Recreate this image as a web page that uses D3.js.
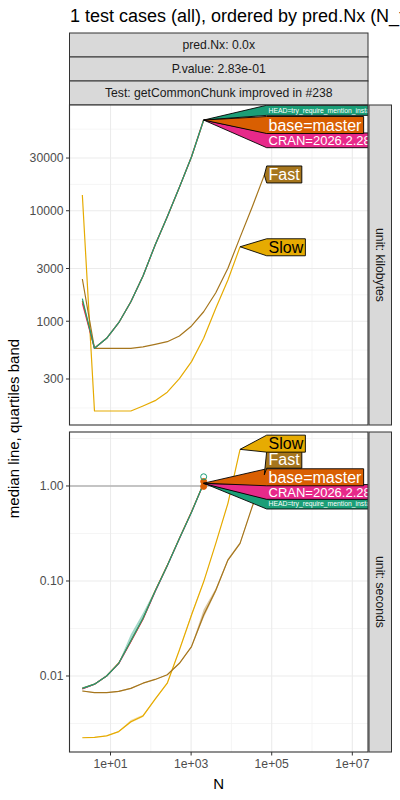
<!DOCTYPE html>
<html>
<head>
<meta charset="utf-8">
<style>
  body { margin: 0; background: #fff; }
  text { font-family: "Liberation Sans", Arial, sans-serif; }
</style>
</head>
<body>
<script src="https://cdnjs.cloudflare.com/ajax/libs/d3/7.8.5/d3.min.js"></script>
<script>

//////////////////////////
////////// DATA //////////
//////////////////////////

const seriesNames = ["HEAD=try_require_mention_install", "base=master", "CRAN=2026.2.28", "Fast", "Slow"];
const seriesColors = ["#1B9E77", "#D95F02", "#E7298A", "#A6761D", "#E6AB02"];
const labelTextColors = ["#fff", "#fff", "#fff", "#fff", "#000"];

const nVersions = [2, 4, 8, 16, 32, 64, 128, 256, 512, 1024, 2048];
const nFast = [2, 4, 8, 16, 32, 64, 128, 256, 512, 1024, 2048, 4096, 8192, 16384, 32768, 65536];
const nSlow = [2, 4, 8, 16, 32, 64, 128, 256, 512, 1024, 2048, 4096, 8192, 16384];

// memory, kilobytes (median)
const kbHead   = [1600, 569, 700, 970, 1500, 2565, 4900, 8830, 16300, 30800, 66200];
const kbMaster = [1530, 569, 700, 970, 1500, 2565, 4900, 8830, 16300, 30800, 66200];
const kbCran   = [1450, 569, 700, 970, 1500, 2565, 4900, 8830, 16300, 30800, 66200];
const kbFast   = [2410, 569, 569, 569, 569, 585, 618, 653, 735, 906, 1218, 1811, 3016, 5740, 10800, 21000];
const kbSlow   = [13900, 154, 154, 154, 154, 171, 191, 228, 302, 431, 700, 1310, 2360, 4720];

// time, seconds (median, first and third quartile)
const secHead     = [0.0074, 0.0082, 0.0100, 0.0136, 0.0235, 0.0405, 0.078, 0.145, 0.280, 0.530, 1.07];
const secHeadLo   = [0.0072, 0.0081, 0.0099, 0.0134, 0.0228, 0.0392, 0.076, 0.142, 0.276, 0.524, 1.05];
const secHeadHi   = [0.0076, 0.0083, 0.0101, 0.0139, 0.0275, 0.0460, 0.081, 0.148, 0.284, 0.536, 1.09];
const secMaster   = [0.0074, 0.0082, 0.0100, 0.0137, 0.0232, 0.0400, 0.079, 0.146, 0.282, 0.535, 1.07];
const secMasterLo = [0.0073, 0.0081, 0.0099, 0.0135, 0.0228, 0.0394, 0.078, 0.144, 0.279, 0.529, 1.05];
const secMasterHi = [0.0075, 0.0083, 0.0101, 0.0139, 0.0240, 0.0412, 0.080, 0.148, 0.285, 0.540, 1.09];
const secCran     = [0.0073, 0.0082, 0.0100, 0.0135, 0.0230, 0.0395, 0.077, 0.145, 0.279, 0.531, 1.06];
const secCranLo   = [0.0072, 0.0081, 0.0099, 0.0134, 0.0227, 0.0390, 0.076, 0.143, 0.276, 0.526, 1.05];
const secCranHi   = [0.0074, 0.0083, 0.0101, 0.0137, 0.0236, 0.0404, 0.079, 0.147, 0.283, 0.537, 1.08];
const secFast     = [0.00695, 0.00668, 0.00668, 0.0069, 0.0074, 0.0084, 0.0092, 0.0103, 0.0136, 0.0204, 0.0439, 0.080, 0.166, 0.249, 0.605, 1.31];
const secFastLo   = [0.00688, 0.00662, 0.00663, 0.0068, 0.0073, 0.0083, 0.0091, 0.0102, 0.0134, 0.0201, 0.0410, 0.076, 0.162, 0.243, 0.595, 1.29];
const secFastHi   = [0.00702, 0.00674, 0.00673, 0.0070, 0.0075, 0.0085, 0.0093, 0.0104, 0.0138, 0.0208, 0.0500, 0.084, 0.172, 0.258, 0.615, 1.33];
const secSlow     = [0.00224, 0.00226, 0.00234, 0.0026, 0.0033, 0.0038, 0.0057, 0.0084, 0.0188, 0.0439, 0.098, 0.249, 0.657, 2.43];
const secSlowLo   = [0.00223, 0.00225, 0.00233, 0.00258, 0.00322, 0.0037, 0.0056, 0.0083, 0.0186, 0.0430, 0.097, 0.246, 0.650, 2.41];
const secSlowHi   = [0.00225, 0.00228, 0.00236, 0.00263, 0.00345, 0.0039, 0.0058, 0.0086, 0.0191, 0.0460, 0.100, 0.253, 0.665, 2.45];

// points at the largest N of the versions (series index, N, seconds, open?)
const endPointSeries = [1, 1, 0];
const endPointN = [2048, 2048, 2048];
const endPointSec = [0.99, 1.115, 1.25];
const endPointOpen = [false, false, true];

// direct label box centres, in each panel's unit
const labelCenterKb  = [81100, 59700, 43400, 21300, 4670];
const labelCenterSec = [0.647, 1.235, 0.865, 1.89, 2.79];
const labelFont = [6.8, 16, 13, 16, 16];

// ticks
const xTicks = [10, 1000, 1e5, 1e7];
const xTickLabels = ["1e+01", "1e+03", "1e+05", "1e+07"];
const xMinor = [100, 1e4, 1e6];
const kbTicks = [300, 1000, 3000, 10000, 30000];
const kbTickLabels = ["300", "1000", "3000", "10000", "30000"];
const kbMinor = [164, 548, 1732, 5477, 17320, 54770];
const secTicks = [0.01, 0.1, 1];
const secTickLabels = ["0.01", "0.10", "1.00"];
const secMinor = [0.00316, 0.0316, 0.316, 3.16];

const stripTexts = ["pred.Nx: 0.0x", "P.value: 2.83e-01", "Test: getCommonChunk improved in #238"];
const titleText = "1 test cases (all), ordered by pred.Nx (N_target)";

///////////////////////////
////////// SETUP //////////
///////////////////////////

const W = 400, H = 800;
const px0 = 69.5, px1 = 368;
const stripTop = 33, stripH = 24;
const smallFont = 12.2;

const panels = [
  { unit: "kilobytes", y0: 105, y1: 425, domain: [115, 90600],
    ticks: kbTicks, tickLabels: kbTickLabels, minor: kbMinor, labelCenter: labelCenterKb,
    series: [
      { s: 0, n: nVersions, v: kbHead },
      { s: 1, n: nVersions, v: kbMaster },
      { s: 2, n: nVersions, v: kbCran },
      { s: 3, n: nFast, v: kbFast },
      { s: 4, n: nSlow, v: kbSlow }
    ] },
  { unit: "seconds", y0: 432, y1: 752, domain: [0.001585, 3.70],
    ticks: secTicks, tickLabels: secTickLabels, minor: secMinor, labelCenter: labelCenterSec, hline: 1,
    series: [
      { s: 0, n: nVersions, v: secHead, lo: secHeadLo, hi: secHeadHi },
      { s: 1, n: nVersions, v: secMaster, lo: secMasterLo, hi: secMasterHi },
      { s: 2, n: nVersions, v: secCran, lo: secCranLo, hi: secCranHi },
      { s: 3, n: nFast, v: secFast, lo: secFastLo, hi: secFastHi },
      { s: 4, n: nSlow, v: secSlow, lo: secSlowLo, hi: secSlowHi }
    ] }
];

let svg = d3.select('body').append('svg')
  .attr('width', W)
  .attr('height', H)
  .style('display', 'block');

let x = d3.scaleLog().domain([0.96, 2.45e7]).range([px0, px1]);

// title
svg.append('text')
  .attr('x', 70).attr('y', 22)
  .attr('font-size', 18)
  .attr('fill', '#000')
  .text(titleText);

// top strips
stripTexts.forEach((t, i) => {
  let yTop = stripTop + i * stripH;
  svg.append('rect')
    .attr('x', px0).attr('y', yTop)
    .attr('width', px1 - px0).attr('height', stripH)
    .attr('fill', '#D9D9D9').attr('stroke', '#333333').attr('stroke-width', 1);
  svg.append('text')
    .attr('x', (px0 + px1) / 2).attr('y', yTop + stripH / 2 + 4.3)
    .attr('text-anchor', 'middle')
    .attr('font-size', smallFont)
    .attr('fill', '#1A1A1A')
    .text(t);
});

////////////////////////////
////////// PANELS //////////
////////////////////////////

let defs = svg.append('defs');
let line = d3.line();
let area = d3.area();

panels.forEach((p, pi) => {
  let y = d3.scaleLog().domain(p.domain).range([p.y1, p.y0]);
  let clipId = 'clip' + pi;
  defs.append('clipPath').attr('id', clipId)
    .append('rect').attr('x', px0).attr('y', p.y0)
    .attr('width', px1 - px0).attr('height', p.y1 - p.y0);

  let g = svg.append('g');
  g.append('rect').attr('x', px0).attr('y', p.y0)
    .attr('width', px1 - px0).attr('height', p.y1 - p.y0).attr('fill', '#fff');

  let grid = g.append('g').attr('clip-path', 'url(#' + clipId + ')');
  // minor grid
  xMinor.forEach(v => grid.append('line')
    .attr('x1', x(v)).attr('x2', x(v)).attr('y1', p.y0).attr('y2', p.y1)
    .attr('stroke', '#F2F2F2').attr('stroke-width', 0.8));
  p.minor.forEach(v => grid.append('line')
    .attr('x1', px0).attr('x2', px1).attr('y1', y(v)).attr('y2', y(v))
    .attr('stroke', '#F2F2F2').attr('stroke-width', 0.8));
  // major grid
  xTicks.forEach(v => grid.append('line')
    .attr('x1', x(v)).attr('x2', x(v)).attr('y1', p.y0).attr('y2', p.y1)
    .attr('stroke', '#EBEBEB').attr('stroke-width', 1.1));
  p.ticks.forEach(v => grid.append('line')
    .attr('x1', px0).attr('x2', px1).attr('y1', y(v)).attr('y2', y(v))
    .attr('stroke', '#EBEBEB').attr('stroke-width', 1.1));

  let plot = g.append('g').attr('clip-path', 'url(#' + clipId + ')');

  if (p.hline !== undefined) {
    plot.append('line')
      .attr('x1', px0).attr('x2', px1).attr('y1', y(p.hline)).attr('y2', y(p.hline))
      .attr('stroke', '#B3B3B3').attr('stroke-width', 1.3);
  }

  // quartile bands
  p.series.filter(d => d.lo).forEach(d => {
    let pts = d.n.map((n, i) => [x(n), y(d.lo[i]), y(d.hi[i])]);
    plot.append('path')
      .attr('d', area.x(q => q[0]).y0(q => q[1]).y1(q => q[2])(pts))
      .attr('fill', seriesColors[d.s]).attr('fill-opacity', 0.4);
  });

  // median lines, drawn slow -> head
  [4, 3, 2, 1, 0].forEach(si => {
    let d = p.series.find(q => q.s === si);
    let pts = d.n.map((n, i) => [x(n), y(d.v[i])]);
    plot.append('path')
      .attr('d', line(pts))
      .attr('fill', 'none')
      .attr('stroke', seriesColors[si])
      .attr('stroke-width', 1.2)
      .attr('stroke-linejoin', 'round');
  });

  if (p.unit === 'seconds') {
    endPointSeries.forEach((si, i) => {
      plot.append('circle')
        .attr('cx', x(endPointN[i])).attr('cy', y(endPointSec[i])).attr('r', 3)
        .attr('fill', endPointOpen[i] ? 'none' : seriesColors[si])
        .attr('stroke', seriesColors[si]).attr('stroke-width', 1);
    });
  }

  // direct labels (polygons pointing at the last point)
  let boxLeft = px0 + 197.2;
  let labels = plot.append('g');
  [0, 2, 1, 3, 4].forEach(si => {
    let d = p.series.find(q => q.s === si);
    let last = d.n.length - 1;
    let tx = x(d.n[last]), ty = y(d.v[last]);
    let fs = labelFont[si];
    let h = fs * 0.75 + 5;
    let cy = y(p.labelCenter[si]);
    let lg = labels.append('g');
    let poly = lg.append('path');
    let txt = lg.append('text')
      .attr('x', boxLeft + 1.8).attr('y', cy + fs * 0.36)
      .attr('font-size', fs)
      .attr('fill', labelTextColors[si])
      .text(seriesNames[si]);
    let tw = txt.node().getComputedTextLength();
    let right = boxLeft + tw + 4;
    let top = cy - h / 2, bot = cy + h / 2;
    poly.attr('d', 'M' + [tx, ty] + 'L' + [boxLeft, top] + 'L' + [right, top] +
        'L' + [right, bot] + 'L' + [boxLeft, bot] + 'Z')
      .attr('fill', seriesColors[si])
      .attr('stroke', '#000').attr('stroke-width', 0.9).attr('stroke-linejoin', 'miter');
  });

  // panel border
  g.append('rect').attr('x', px0).attr('y', p.y0)
    .attr('width', px1 - px0).attr('height', p.y1 - p.y0)
    .attr('fill', 'none').attr('stroke', '#333333').attr('stroke-width', 1.1);

  // y axis ticks
  p.ticks.forEach((v, i) => {
    g.append('line').attr('x1', px0 - 3.5).attr('x2', px0).attr('y1', y(v)).attr('y2', y(v))
      .attr('stroke', '#333333').attr('stroke-width', 1);
    g.append('text').attr('x', px0 - 6).attr('y', y(v) + 4.3)
      .attr('text-anchor', 'end').attr('font-size', smallFont).attr('fill', '#4D4D4D')
      .text(p.tickLabels[i]);
  });

  // right strip
  g.append('rect').attr('x', px1 + 1).attr('y', p.y0)
    .attr('width', 22.5).attr('height', p.y1 - p.y0)
    .attr('fill', '#D9D9D9').attr('stroke', '#333333').attr('stroke-width', 1);
  let cx = px1 + 1 + 11.25, cyS = (p.y0 + p.y1) / 2;
  g.append('text')
    .attr('transform', 'translate(' + (cx - 4.3) + ',' + cyS + ') rotate(90)')
    .attr('text-anchor', 'middle').attr('font-size', smallFont).attr('fill', '#1A1A1A')
    .text('unit: ' + p.unit);
});

// x axis
let bottom = panels[1].y1;
xTicks.forEach((v, i) => {
  svg.append('line').attr('x1', x(v)).attr('x2', x(v)).attr('y1', bottom).attr('y2', bottom + 3.5)
    .attr('stroke', '#333333').attr('stroke-width', 1);
  svg.append('text').attr('x', x(v)).attr('y', bottom + 15.5)
    .attr('text-anchor', 'middle').attr('font-size', smallFont).attr('fill', '#4D4D4D')
    .text(xTickLabels[i]);
});

svg.append('text').attr('x', (px0 + px1) / 2).attr('y', 789)
  .attr('text-anchor', 'middle').attr('font-size', 15).attr('fill', '#000')
  .text('N');

svg.append('text')
  .attr('transform', 'translate(19,' + ((panels[0].y0 + panels[1].y1) / 2) + ') rotate(-90)')
  .attr('text-anchor', 'middle').attr('font-size', 15).attr('fill', '#000')
  .text('median line, quartiles band');

</script>
</body>
</html>
